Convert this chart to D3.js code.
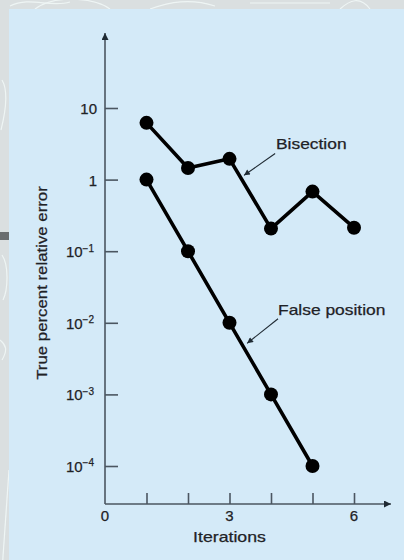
<!DOCTYPE html>
<html>
<head>
<meta charset="utf-8">
<script src="https://cdn.jsdelivr.net/npm/d3@7"></script>
<style>
  html, body { margin: 0; padding: 0; background: #dadfe0; }
  svg { display: block; }
</style>
</head>
<body>
<script>
// chart values
var iterations = [1, 2, 3, 4, 5, 6];
var bisection = [6.2, 1.45, 1.95, 0.207, 0.68, 0.213];
var falsePosition = [1, 0.1, 0.01, 0.001, 0.0001];
var yTicks = [10, 1, 0.1, 0.01, 0.001, 0.0001];
var xTicks = [1, 2, 3, 4, 5, 6];
var xLabels = [0, 3, 6];

var W = 404, H = 560;
var font = "'Liberation Sans', Arial, Helvetica, sans-serif";
var ink = "#4b5661";
var textInk = "#1f2226";

var svg = d3.select("body").append("svg")
    .attr("width", W)
    .attr("height", H);

// backdrop: grey frame with faint scribbles, blue panel
svg.append("rect").attr("width", W).attr("height", H).attr("fill", "#dadfe0");
var deco = svg.append("g").attr("fill", "none").attr("stroke", "#f4fbfa").attr("stroke-width", 1.2).attr("opacity", 0.8);
deco.append("path").attr("d", "M10,6 C30,-4 50,8 70,2");
deco.append("path").attr("d", "M35,9 C55,-6 95,-2 110,9");
deco.append("path").attr("d", "M150,9 C170,2 190,-2 215,6");
deco.append("path").attr("d", "M250,3 L330,3");
deco.append("path").attr("d", "M340,9 C350,0 360,-4 370,9");
deco.append("path").attr("d", "M2,80 C8,90 6,110 1,130");
deco.append("path").attr("d", "M2,255 C9,265 8,290 3,300");
deco.append("path").attr("d", "M0,340 C6,345 8,350 2,360");
deco.append("path").attr("d", "M0,600 L9,470");
svg.append("rect").attr("x", 0).attr("y", 232).attr("width", 9).attr("height", 8).attr("fill", "#6a6d6e");
svg.append("rect").attr("x", 9).attr("y", 9).attr("width", W - 9).attr("height", H - 9).attr("fill", "#d4eaf8");

var x = d3.scaleLinear().domain([0, 6]).range([105, 354]);
var y = d3.scaleLog().domain([1e-4, 10]).range([466, 108]);

var x0 = x(0), yBase = 504;

var defs = svg.append("defs");
function arrowMarker(id, w, h, color) {
    defs.append("marker")
        .attr("id", id)
        .attr("viewBox", "0 0 10 10")
        .attr("refX", 10).attr("refY", 5)
        .attr("markerUnits", "userSpaceOnUse")
        .attr("markerWidth", w).attr("markerHeight", h)
        .attr("orient", "auto")
      .append("path")
        .attr("d", "M0,0 L10,5 L0,10 Z")
        .attr("fill", color);
}
arrowMarker("axisArrow", 9, 7, "#1f2a33");
arrowMarker("noteArrow", 8, 6, "#1f2a33");

// axis lines with arrows
svg.append("line")
    .attr("x1", x0).attr("y1", yBase)
    .attr("x2", x0).attr("y2", 33)
    .attr("stroke", ink).attr("stroke-width", 1.6)
    .attr("marker-end", "url(#axisArrow)");
svg.append("line")
    .attr("x1", x0).attr("y1", yBase)
    .attr("x2", 391).attr("y2", yBase)
    .attr("stroke", ink).attr("stroke-width", 1.6)
    .attr("marker-end", "url(#axisArrow)");

// y axis ticks
var leftAxis = d3.axisLeft(y).tickValues(yTicks).tickSize(-13).tickPadding(8).tickFormat("");
var gy = svg.append("g")
    .attr("transform", "translate(" + x0 + ",0)")
    .call(leftAxis);
gy.select(".domain").remove();
gy.selectAll(".tick line").attr("stroke", ink).attr("stroke-width", 1.6);
gy.selectAll(".tick").each(function(d) {
    var t = d3.select(this).select("text")
        .attr("font-family", font)
        .attr("font-size", 15)
        .attr("fill", textInk)
        .attr("stroke", textInk).attr("stroke-width", 0.25)
        .attr("dy", "0.36em");
    var p = Math.round(Math.log10(d));
    if (p >= 0) {
        t.attr("x", -8).text(d3.format("d")(d));
    } else {
        t.attr("x", -11);
        t.append("tspan").text("10");
        t.append("tspan").attr("font-size", 10).attr("dy", "-0.55em").text("\u2212" + (-p));
    }
});

// x axis ticks
var bottomAxis = d3.axisBottom(x).tickValues(xTicks).tickSize(-11).tickFormat("");
var gx = svg.append("g")
    .attr("transform", "translate(0," + yBase + ")")
    .call(bottomAxis);
gx.select(".domain").remove();
gx.selectAll(".tick line").attr("stroke", ink).attr("stroke-width", 1.6);
gx.selectAll(".tick text").remove();

svg.append("g").selectAll("text")
    .data(xLabels)
    .enter().append("text")
    .attr("x", function(d) { return x(d); })
    .attr("y", yBase + 17)
    .attr("text-anchor", "middle")
    .attr("font-family", font)
    .attr("font-size", 15)
    .attr("fill", textInk)
    .attr("stroke", textInk).attr("stroke-width", 0.25)
    .text(function(d) { return d; });

// stretched label helper (reference type runs a bit wide)
function wideText(g, str, size, stretch) {
    var t = g.append("text")
        .attr("font-family", font)
        .attr("font-size", size)
        .attr("fill", textInk)
        .attr("stroke", textInk).attr("stroke-width", 0.25)
        .text(str);
    var len = t.node().getComputedTextLength();
    t.attr("textLength", len * stretch).attr("lengthAdjust", "spacingAndGlyphs");
    return t;
}

wideText(svg, "Iterations", 15, 1.18)
    .attr("x", x(3)).attr("y", 542)
    .attr("text-anchor", "middle");

wideText(svg, "True percent relative error", 15, 1.12)
    .attr("text-anchor", "middle")
    .attr("transform", "translate(47," + 283 + ") rotate(-90)");

// series
var line = d3.line()
    .x(function(d) { return x(d[0]); })
    .y(function(d) { return y(d[1]); });

function drawSeries(values) {
    var pts = values.map(function(v, i) { return [iterations[i], v]; });
    svg.append("path")
        .datum(pts)
        .attr("d", line)
        .attr("fill", "none")
        .attr("stroke", "#000")
        .attr("stroke-width", 3.6)
        .attr("stroke-linejoin", "round");
    svg.append("g").selectAll("circle")
        .data(pts)
        .enter().append("circle")
        .attr("cx", function(d) { return x(d[0]); })
        .attr("cy", function(d) { return y(d[1]); })
        .attr("r", 7)
        .attr("fill", "#000");
}
drawSeries(bisection);
drawSeries(falsePosition);

// annotations: label baseline and arrow tail in data units,
// arrow aims at a point part way along one segment of the series
var notes = [
    { text: "Bisection", tx: 4.12, ty: 2.67, sx: 4.1, sy: 2.31, seg: [2, 3], t: 0.27, gap: 4, series: bisection },
    { text: "False position", tx: 4.17, ty: 0.0128, sx: 4.17, sy: 0.0114, seg: [2, 3], t: 0.33, gap: 5, series: falsePosition }
];
notes.forEach(function(n) {
    wideText(svg, n.text, 15, 1.16)
        .attr("x", x(n.tx)).attr("y", y(n.ty));
    var a = n.series[n.seg[0]], b = n.series[n.seg[1]];
    var ex = x(iterations[n.seg[0]] + n.t);
    var ey = y(a) + (y(b) - y(a)) * n.t;
    var dx = x(n.sx) - ex, dy = y(n.sy) - ey, L = Math.sqrt(dx * dx + dy * dy);
    svg.append("line")
        .attr("x1", x(n.sx)).attr("y1", y(n.sy))
        .attr("x2", ex + dx / L * n.gap).attr("y2", ey + dy / L * n.gap)
        .attr("stroke", "#1f2a33").attr("stroke-width", 1.1)
        .attr("marker-end", "url(#noteArrow)");
});
</script>
</body>
</html>
